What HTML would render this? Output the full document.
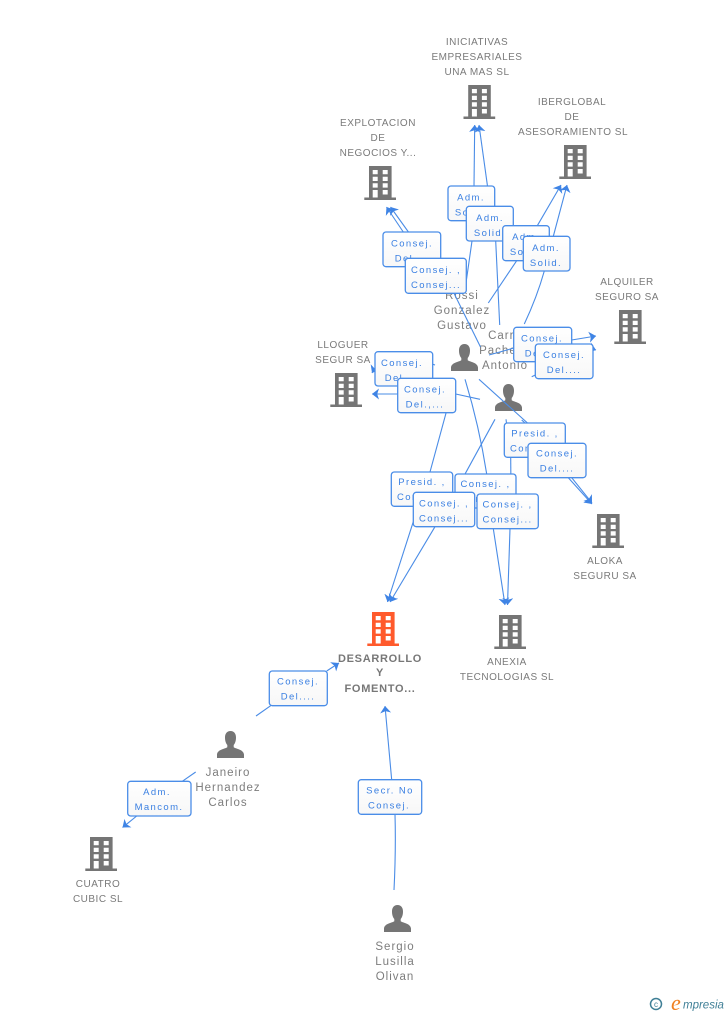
<!DOCTYPE html>
<html><head><meta charset="utf-8">
<style>
html,body{margin:0;padding:0;background:#fff;width:728px;height:1015px;overflow:hidden}
svg{display:block}
text{font-family:"Liberation Sans",sans-serif}
.n{font-size:10px;fill:#7a7a7a;text-anchor:middle;letter-spacing:.5px}
.p{font-size:11.5px;fill:#7d7d7d;text-anchor:middle;letter-spacing:1px}
.b{font-size:11px;font-weight:bold;fill:#777;text-anchor:middle;letter-spacing:.7px}
.t{font-size:9.5px;fill:#3b80e2;text-anchor:middle;letter-spacing:1.4px}
.l{fill:none;stroke:#4a8ce6;stroke-width:1.1}
.a{marker-end:url(#ah)}
.box{fill:url(#g);stroke:#4a8de8;stroke-width:1.3}
</style></head><body>
<svg width="728" height="1015" viewBox="0 0 728 1015" xmlns="http://www.w3.org/2000/svg">
<defs>
<linearGradient id="g" x1="0" y1="0" x2="0" y2="1"><stop offset="0" stop-color="#fff"/><stop offset="1" stop-color="#f7f7f7"/></linearGradient>
<marker id="ah" markerUnits="userSpaceOnUse" markerWidth="12" markerHeight="14" refX="7" refY="5.5" orient="auto">
<path d="M0 0L7 5.500L0 11L1.800 5.500Z" fill="#3f84e5"/>
</marker>
<g id="bld">
<path fill-rule="evenodd" d="M4.700 0H27.300V31.500H31.700V34H0V31.500H4.700Z M8.400 4V8.300H13.400V4Z M18.400 4V8.300H23.400V4Z M8.400 10.700V15H13.400V10.700Z M18.400 10.700V15H23.400V10.700Z M8.400 17.300V21.600H13.400V17.300Z M18.400 17.300V21.600H23.400V17.300Z M8.400 24V31.500H13.400V24Z M18.400 24V28.500H23.400V24Z"/>
</g>
<g id="per">
<path d="M13.500 0C9.800 0 8 2.800 8 6.500C8 10 9 12.500 10.300 14V16.300C8 18 0.500 18.500 0 23.500V27H27V23.500C26.500 18.500 19 18 16.700 16.300V14C18 12.500 19 10 19 6.500C19 2.800 17.200 0 13.500 0Z"/>
</g>
</defs>

<!-- nodes -->
<g fill="#757575">
<use href="#bld" x="463.500" y="85"/>
<use href="#bld" x="364.300" y="166"/>
<use href="#bld" x="559.300" y="145"/>
<use href="#bld" x="614.300" y="310"/>
<use href="#bld" x="330.300" y="373"/>
<use href="#bld" x="592.300" y="514"/>
<use href="#bld" x="494.300" y="615"/>
<use href="#bld" x="85.300" y="837"/>
<use href="#per" x="451" y="344"/>
<use href="#per" x="495" y="384"/>
<use href="#per" x="217" y="731"/>
<use href="#per" x="384" y="905"/>
</g>
<use href="#bld" x="367.300" y="612" fill="#ff5a2c"/>

<!-- node labels -->
<text class="n" x="477" y="45">INICIATIVAS</text>
<text class="n" x="477" y="60">EMPRESARIALES</text>
<text class="n" x="477" y="75">UNA MAS  SL</text>
<text class="n" x="378" y="126">EXPLOTACION</text>
<text class="n" x="378" y="141">DE</text>
<text class="n" x="378" y="156">NEGOCIOS Y...</text>
<text class="n" x="572" y="105">IBERGLOBAL</text>
<text class="n" x="572" y="120">DE</text>
<text class="n" x="573" y="135">ASESORAMIENTO SL</text>
<text class="n" x="627" y="285">ALQUILER</text>
<text class="n" x="627" y="300">SEGURO SA</text>
<text class="n" x="343" y="348">LLOGUER</text>
<text class="n" x="343" y="363">SEGUR SA</text>
<text class="n" x="605" y="564">ALOKA</text>
<text class="n" x="605" y="579">SEGURU SA</text>
<text class="n" x="507" y="665">ANEXIA</text>
<text class="n" x="507" y="680">TECNOLOGIAS SL</text>
<text class="n" x="98" y="887">CUATRO</text>
<text class="n" x="98" y="902">CUBIC SL</text>
<text class="b" x="380" y="662">DESARROLLO</text>
<text class="b" x="380" y="676">Y</text>
<text class="b" x="380" y="692">FOMENTO...</text>
<text class="p" x="462" y="299">Rossi</text>
<text class="p" x="462" y="314">Gonzalez</text>
<text class="p" x="462" y="329">Gustavo</text>
<text class="p" x="505" y="339">Carro</text>
<text class="p" x="505" y="354">Pacheco</text>
<text class="p" x="505" y="369">Antonio</text>
<text class="p" x="228" y="776">Janeiro</text>
<text class="p" x="228" y="791">Hernandez</text>
<text class="p" x="228" y="806">Carlos</text>
<text class="p" x="395" y="950">Sergio</text>
<text class="p" x="395" y="965">Lusilla</text>
<text class="p" x="395" y="980">Olivan</text>

<!-- connectors -->
<path class="l a" d="M474 186L474.700 125"/>
<path class="l a" d="M490.300 206.300L479 125"/>
<path class="l" d="M495.700 241L499.700 325"/>
<path class="l" d="M472 241L465.700 285"/>
<path class="l a" d="M537.300 225.700L561 185"/>
<path class="l a" d="M553.300 236.300L567 185"/>
<path class="l" d="M516.700 260.700L488.300 303"/>
<path class="l" d="M544.300 271Q537 297 524.300 324"/>
<path class="l a" d="M403.300 232L386.500 207"/>
<path class="l a" d="M427.300 258.300L390.500 207"/>
<path class="l" d="M454 293.300L480.500 347"/>
<path class="l a" d="M571.700 340L596 336"/>
<path class="l a" d="M590 348L596 350"/>
<path class="l" d="M489 355L514 348"/>
<path class="l" d="M531.700 376.700L535.300 375"/>
<path class="l a" d="M376 366L372 373"/>
<path class="l" d="M433 364.300L435 365"/>
<path class="l a" d="M397.700 394L372 394"/>
<path class="l" d="M455.700 394L480 399.300"/>
<path class="l" d="M479 379.300L550 443.300"/>
<path class="l" d="M521.700 420L525 423"/>
<path class="l a" d="M568.300 477.700L592 504"/>
<path class="l a" d="M571.700 477.700L592 503"/>
<path class="l" d="M455 380L430 472"/>
<path class="l a" d="M413.300 521.700L387.500 602"/>
<path class="l a" d="M435 526.700L390 602"/>
<path class="l" d="M495 419.300L455 492.300"/>
<path class="l" d="M465 379.300Q479 425 486.700 474"/>
<path class="l" d="M506 419.300L506.500 423"/>
<path class="l" d="M510.700 457.300L511 494"/>
<path class="l a" d="M493.300 528.700L505 605"/>
<path class="l a" d="M510 528.700L507.500 605"/>
<path class="l" d="M256 716L270.700 705.700"/>
<path class="l a" d="M326.700 671L339 663"/>
<path class="l" d="M195.700 772L182.300 781.300"/>
<path class="l a" d="M136.700 816L122.500 827.500"/>
<path class="l" d="M394 890Q396 850 395 814.300"/>
<path class="l a" d="M391.700 780L385 706"/>

<!-- label boxes -->
<rect class="box" x="448" y="186" width="46.700" height="34.700" rx="3"/>
<text class="t" x="471" y="200.500">Adm.</text><text class="t" x="471" y="215.500">Solid.</text>
<rect class="box" x="466.300" y="206.300" width="47" height="34.700" rx="3"/>
<text class="t" x="490" y="220.800">Adm.</text><text class="t" x="490" y="235.800">Solid.</text>
<rect class="box" x="502.700" y="225.700" width="46.600" height="35" rx="3"/>
<text class="t" x="526" y="240">Adm.</text><text class="t" x="526" y="255">Solid.</text>
<rect class="box" x="523.300" y="236.300" width="46.700" height="34.700" rx="3"/>
<text class="t" x="546" y="250.800">Adm.</text><text class="t" x="546" y="265.800">Solid.</text>
<rect class="box" x="383" y="232" width="57.700" height="34.700" rx="3"/>
<text class="t" x="412" y="246.500">Consej.</text><text class="t" x="412" y="261.500">Del....</text>
<rect class="box" x="405.300" y="258.300" width="61" height="35" rx="3"/>
<text class="t" x="436" y="272.800">Consej. ,</text><text class="t" x="436" y="287.800">Consej...</text>
<rect class="box" x="513.700" y="327.300" width="58" height="34.400" rx="3"/>
<text class="t" x="542" y="341.500">Consej.</text><text class="t" x="542" y="356.500">Del....</text>
<rect class="box" x="535.300" y="344" width="57.700" height="34.700" rx="3"/>
<text class="t" x="564" y="358">Consej.</text><text class="t" x="564" y="373">Del....</text>
<rect class="box" x="375" y="351.700" width="57.700" height="34.300" rx="3"/>
<text class="t" x="402" y="366">Consej.</text><text class="t" x="402" y="381">Del....</text>
<rect class="box" x="397.700" y="378.300" width="58" height="34.400" rx="3"/>
<text class="t" x="425" y="392.500">Consej.</text><text class="t" x="425" y="407.500">Del.,...</text>
<rect class="box" x="504.300" y="423" width="61" height="34.300" rx="3"/>
<text class="t" x="535" y="436.500">Presid. ,</text><text class="t" x="535" y="451.500">Consej...</text>
<rect class="box" x="528" y="443.300" width="58" height="34.400" rx="3"/>
<text class="t" x="557" y="456.500">Consej.</text><text class="t" x="557" y="471.500">Del....</text>
<rect class="box" x="391.300" y="472" width="61.400" height="34.300" rx="3"/>
<text class="t" x="422" y="485">Presid. ,</text><text class="t" x="422" y="500">Consej...</text>
<rect class="box" x="455" y="474" width="61" height="34" rx="3"/>
<text class="t" x="485.500" y="487">Consej. ,</text><text class="t" x="485.500" y="502">Consej...</text>
<rect class="box" x="413.300" y="492.300" width="61.400" height="34.400" rx="3"/>
<text class="t" x="444" y="506.500">Consej. ,</text><text class="t" x="444" y="521.500">Consej...</text>
<rect class="box" x="477" y="494" width="61.300" height="34.700" rx="3"/>
<text class="t" x="507.500" y="507.500">Consej. ,</text><text class="t" x="507.500" y="522.500">Consej...</text>
<rect class="box" x="269.300" y="671" width="58" height="34.700" rx="3"/>
<text class="t" x="298" y="684.500">Consej.</text><text class="t" x="298" y="699.500">Del....</text>
<rect class="box" x="127.700" y="781.300" width="63.300" height="34.700" rx="3"/>
<text class="t" x="157" y="795">Adm.</text><text class="t" x="159" y="810">Mancom.</text>
<rect class="box" x="358.300" y="779.700" width="63.400" height="34.600" rx="3"/>
<text class="t" x="390" y="793.500">Secr.  No</text><text class="t" x="389" y="808.500">Consej.</text>

<!-- logo -->
<circle cx="656" cy="1004" r="5.500" fill="none" stroke="#3f7f96" stroke-width="1.500"/>
<text x="656" y="1007" font-size="8" fill="#3f7f96" text-anchor="middle">c</text>
<text x="671" y="1010" font-size="22" font-style="italic" fill="#f08020" style="font-family:'Liberation Serif',serif">e</text>
<text x="683" y="1008.500" font-size="11.500" font-style="italic" fill="#3f7f96" style="font-family:'Liberation Sans',sans-serif">mpresia</text>
</svg>
</body></html>
